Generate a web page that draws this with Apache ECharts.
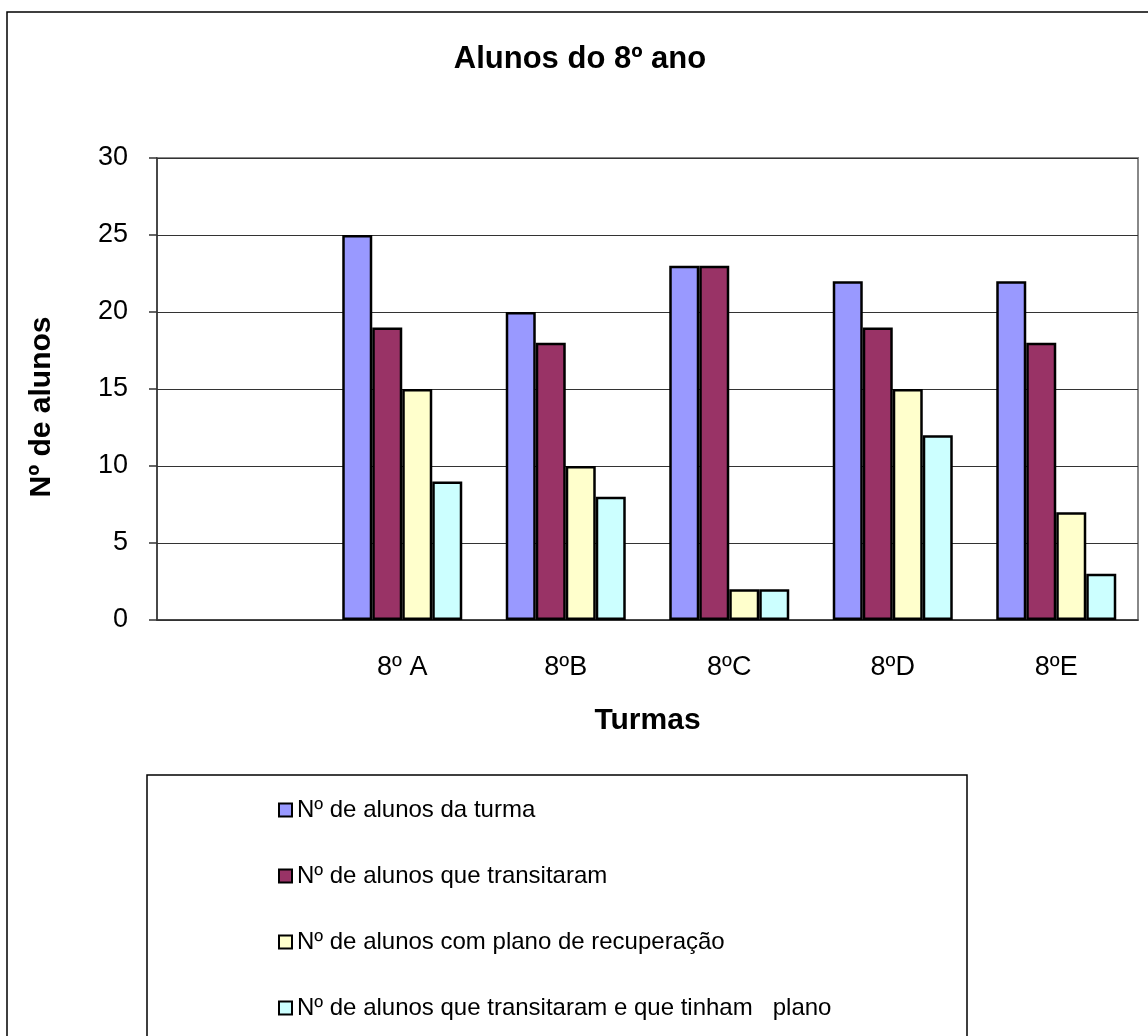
<!DOCTYPE html>
<html style="height: 100%">
	<head>
		<meta charset="UTF-8">
		<title>Alunos do 8º ano</title>
		<script src="https://cdn.jsdelivr.net/npm/echarts@6/dist/echarts.min.js" type="text/javascript" charset="utf-8"></script>
	</head>
	<body style="height: 100%; margin: 0; background: #fff">
		<div id="container" style="width: 1148px; height: 1036px;"></div>
	</body>
	<script type="text/javascript">
		var dom = document.getElementById("container");
		var myChart = echarts.init(dom);
		var option = null;

		// categorias (a primeira fica vazia, como no original)
		var turmas = ['', '8º A', '8ºB', '8ºC', '8ºD', '8ºE'];
		var yTicks = [0, 5, 10, 15, 20, 25, 30];

		var nomes = [
			'Nº de alunos da turma',
			'Nº de alunos que transitaram',
			'Nº de alunos com plano de recuperação',
			'Nº de alunos que transitaram e que tinham   plano'
		];
		var alunosTurma = [null, 25, 20, 23, 22, 22];
		var transitaram = [null, 19, 18, 23, 19, 18];
		var planoRecup = [null, 15, 10, 2, 15, 7];
		var transitPlano = [null, 9, 8, 2, 12, 3];

		var cores = ['#9999FF', '#993366', '#FFFFCC', '#CCFFFF'];
		var fonte = "'Liberation Sans', Arial, sans-serif";

		function serie(i, dados) {
			return {
				name: nomes[i],
				type: 'bar',
				barWidth: 30,
				barGap: '0%',
				data: dados,
				itemStyle: {
					color: cores[i],
					borderColor: '#000',
					borderWidth: 2.5
				}
			};
		}

		option = {
			animation: false,
			backgroundColor: '#fff',
			textStyle: { fontFamily: fonte },
			title: {
				text: 'Alunos do 8º ano',
				left: 575,
				top: 39,
				textAlign: 'center',
				textStyle: {
					fontFamily: fonte,
					fontSize: 31,
					fontWeight: 'bold',
					color: '#000'
				}
			},
			graphic: [
				{   // moldura exterior
					type: 'rect',
					shape: { x: 7, y: 12, width: 1200, height: 1100 },
					style: { fill: null, stroke: '#000', lineWidth: 1.5 }
				},
				{   // caixa da legenda
					type: 'rect',
					shape: { x: 147, y: 775, width: 820, height: 400 },
					style: { fill: null, stroke: '#000', lineWidth: 1.5 }
				}
			],
			legend: {
				data: nomes,
				orient: 'vertical',
				left: 278,
				top: 798,
				padding: 0,
				itemGap: 42,
				itemWidth: 13,
				itemHeight: 13,
				icon: 'rect',
				textStyle: {
					fontFamily: fonte,
					fontSize: 24,
					lineHeight: 22,
					color: '#000'
				}
			},
			grid: {
				left: 157,
				right: 10,
				top: 158,
				bottom: 416,
				show: true,
				borderColor: '#888',
				borderWidth: 2
			},
			xAxis: {
				type: 'category',
				data: turmas,
				name: 'Turmas',
				nameLocation: 'middle',
				nameGap: 86,
				nameTextStyle: {
					fontFamily: fonte,
					fontSize: 30,
					fontWeight: 'bold',
					color: '#000'
				},
				axisLine: { lineStyle: { color: '#333', width: 1.5 } },
				axisTick: { length: 8, lineStyle: { color: '#333', width: 1.5 } },
				axisLabel: {
					fontFamily: fonte,
					fontSize: 27,
					color: '#000',
					margin: 34
				}
			},
			yAxis: {
				type: 'value',
				min: yTicks[0],
				max: yTicks[yTicks.length - 1],
				interval: 5,
				name: 'Nº de alunos',
				nameLocation: 'middle',
				nameRotate: 90,
				nameGap: 100,
				nameTextStyle: {
					fontFamily: fonte,
					fontSize: 30,
					fontWeight: 'bold',
					color: '#000',
					padding: [0, 36, 0, 0]
				},
				axisLine: { show: true, lineStyle: { color: '#333', width: 1.5 } },
				axisTick: { show: true, length: 8, lineStyle: { color: '#333', width: 1.5 } },
				axisLabel: {
					fontFamily: fonte,
					fontSize: 27,
					color: '#000',
					margin: 29
				},
				splitLine: { lineStyle: { color: '#333', width: 1.2 } }
			},
			series: [
				serie(0, alunosTurma),
				serie(1, transitaram),
				serie(2, planoRecup),
				serie(3, transitPlano)
			]
		};

		if (option && typeof option === "object") {
			myChart.setOption(option, true);
		}
	</script>
</html>
